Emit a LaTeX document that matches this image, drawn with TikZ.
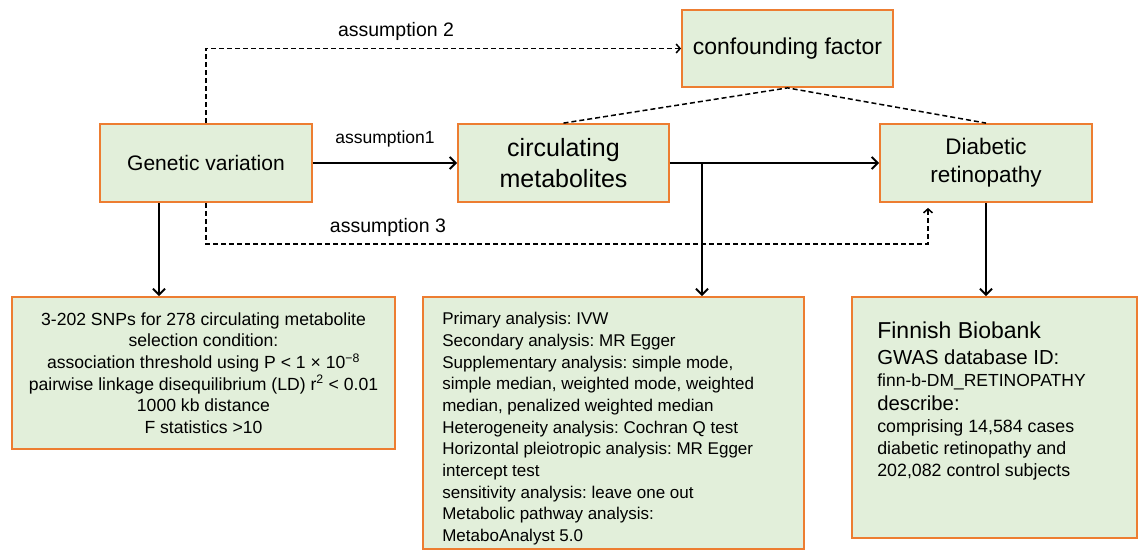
\documentclass[tikz,border=0pt]{standalone}
\usepackage{fontspec}
\setmainfont{Liberation Sans}
\usetikzlibrary{arrows.meta}
\newcommand{\Size}[2]{\fontsize{#1}{#2}\selectfont}
\definecolor{boxfill}{RGB}{226,239,218}
\definecolor{boxline}{RGB}{237,125,49}
\frenchspacing

\begin{document}
\begin{tikzpicture}[>={Straight Barb[length=6pt,width=12pt]}, x=1pt, y=-1pt,
    box/.style={draw=boxline, fill=boxfill, line width=1.8pt, inner sep=0pt},
    link/.style={line width=2pt},
    hint/.style={line width=1.5pt, dash pattern=on 5pt off 3pt,
        >={Straight Barb[length=4pt,width=9pt]}},
    tag/.style={inner sep=0pt}]

    \useasboundingbox (0,0) rectangle (1143,551);

    \draw(206,163) node[box, minimum width=212, minimum height=78, font=\Size{21}{25}] (gv) {Genetic variation};
    \draw(563.5,163) node[box, minimum width=211, minimum height=78, align=center, font=\Size{25}{31}] (cm) {circulating\\metabolites};
    \draw(986,163) node[box, minimum width=212, minimum height=78, align=center, font=\Size{22.5}{28}] (dr) {Diabetic\\retinopathy};
    \draw(787.5,48.5) node[box, minimum width=211, minimum height=77, font=\Size{23}{27}] (conf) {confounding factor};

    \draw(203.5,373) node[box, minimum width=383, minimum height=152, align=center, font=\Size{17.6}{21.7}] (snp)
        {3-202 SNPs for 278 circulating metabolite\\selection condition:\\
         association threshold using P < 1 × 10\textsuperscript{−8}\\
         pairwise linkage disequilibrium (LD) r\textsuperscript{2} < 0.01\\
         1000 kb distance\\F statistics >10};

    \draw(613.5,423) node[box, minimum width=381, minimum height=252] (ana) {};
    \node[tag, anchor=north west, align=left, font=\Size{17}{21.7}] (anatext) at ([shift={(20,16)}]ana.north west)
        {Primary analysis: IVW\\Secondary analysis: MR Egger\\
         Supplementary analysis: simple mode,\\simple median, weighted mode, weighted\\
         median, penalized weighted median\\Heterogeneity analysis: Cochran Q test\\
         Horizontal pleiotropic analysis: MR Egger\\intercept test\\
         sensitivity analysis: leave one out\\Metabolic pathway analysis:\\MetaboAnalyst 5.0};

    \draw(994.5,417.5) node[box, minimum width=285, minimum height=241] (fin) {};
    \node[tag, anchor=north west, align=left, font=\Size{17.8}{22}] (fintext) at ([shift={(26,26)}]fin.north west)
        {{\Size{23}{22}Finnish Biobank}\\[4pt]{\Size{20.3}{22}GWAS database ID:}\\
         {\Size{17.5}{22}finn-b-DM\_RETINOPATHY}\\[2pt]{\Size{20.3}{22}describe:}\\
         comprising 14,584 cases\\diabetic retinopathy and\\202,082 control subjects};

    \coordinate (split) at (702,163);
    \coordinate (gvfoot) at ([xshift=-47]gv.south);
    \coordinate (drfoot) at ([shift={(-58,5)}]dr.south);

    \draw[->, link] (gv) -- (cm) node[tag, midway, above=15pt, font=\Size{17.5}{20}] {assumption1};
    \draw[->, link] (cm) -- (dr);
    \draw[->, hint] (gv.north) -- (gv.north |- conf.west) -- (conf.west)
        node[tag, pos=0.4, above=7pt, font=\Size{19.5}{22}] {assumption 2};
    \draw[->, hint] (gv.south) -- ++(0,41) -| (drfoot)
        node[tag, pos=0.126, above=7pt, font=\Size{19.5}{22}] {assumption 3};
    \draw[hint] (cm.north) -- (conf.south) -- (dr.north);

    \draw[->, link] (gvfoot) -- (gvfoot |- snp.north);
    \draw[->, link] (split) -- (split |- ana.north);
    \draw[->, link] (dr.south) -- (dr.south |- fin.north);

\end{tikzpicture}
\end{document}
